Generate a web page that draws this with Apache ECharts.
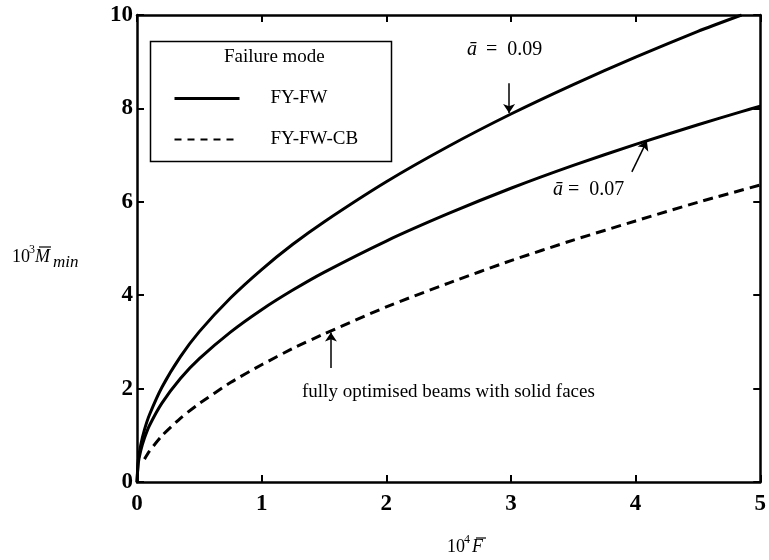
<!DOCTYPE html>
<html>
<head>
<meta charset="utf-8">
<script src="https://cdn.jsdelivr.net/npm/echarts@6/dist/echarts.min.js"></script>
<style>html,body{margin:0;padding:0;background:#fff;}#c{width:769px;height:560px;}</style>
</head>
<body>
<div id="c"></div>
<script>
// x values (10^4 F)
var fSolid = [0, 0.01, 0.03, 0.06, 0.1, 0.2, 0.35, 0.5, 0.75, 1, 1.25, 1.5, 2, 2.5, 3, 3.5, 4, 4.5, 4.85, 5];
// a = 0.09, FY-FW (10^3 M_min)
var mA009 = [0, 0.46, 0.79, 1.12, 1.44, 2.03, 2.69, 3.22, 3.94, 4.55, 5.09, 5.57, 6.43, 7.19, 7.88, 8.51, 9.10, 9.65, 10.0, null];
// a = 0.07, FY-FW
var mA007 = [0, 0.40, 0.67, 0.94, 1.21, 1.69, 2.22, 2.64, 3.21, 3.69, 4.11, 4.49, 5.16, 5.75, 6.29, 6.78, 7.23, 7.65, 7.93, 8.05];
// fully optimised beams with solid faces, FY-FW-CB
var fDashed = [0.06, 0.1, 0.2, 0.35, 0.5, 0.75, 1, 1.25, 1.5, 2, 2.5, 3, 3.5, 4, 4.5, 5];
var mSolidFaces = [0.49, 0.66, 0.99, 1.37, 1.68, 2.13, 2.51, 2.86, 3.17, 3.75, 4.26, 4.74, 5.18, 5.59, 5.99, 6.36];
var xTicks = [0, 1, 2, 3, 4, 5];
var yTicks = [0, 2, 4, 6, 8, 10];

function pairs(xs, ys) {
  var out = [];
  for (var i = 0; i < xs.length; i++) { if (ys[i] !== null) out.push([xs[i], ys[i]]); }
  return out;
}

var serif = '"Liberation Serif","DejaVu Serif",serif';
var chart = echarts.init(document.getElementById('c'));
var tickLabel = {fontFamily: serif, fontWeight: 'bold', fontSize: 23, color: '#000'};
var axisLine = {show: true, onZero: false, lineStyle: {color: '#000', width: 2.5}};
var axisTick = {show: true, inside: true, length: 7, lineStyle: {color: '#000', width: 2}};

var arrowStyle = {color: '#000', width: 1.5, type: 'solid'};
function arrow(x1, y1, x2, y2) { return [{coord: [x1, y1]}, {coord: [x2, y2]}]; }
var arrowMark = function (d) {
  return {silent: true, symbol: ['none', 'arrow'], symbolSize: 9, label: {show: false},
    lineStyle: arrowStyle, itemStyle: {color: '#000'}, emphasis: {disabled: true}, data: [d]};
};

chart.setOption({
  animation: false,
  backgroundColor: '#fff',
  grid: {left: 137, right: 6, top: 15, bottom: 78, containLabel: false},
  xAxis: [
    {type: 'value', min: 0, max: 5, interval: 1, position: 'bottom',
     axisLine: axisLine, axisTick: axisTick, splitLine: {show: false},
     axisLabel: Object.assign({margin: 11, formatter: function (v) { return xTicks.indexOf(v) >= 0 ? String(v) : ''; }}, tickLabel)},
    {type: 'value', min: 0, max: 5, interval: 1, position: 'top',
     axisLine: axisLine, axisTick: axisTick, splitLine: {show: false}, axisLabel: {show: false}}
  ],
  yAxis: [
    {type: 'value', min: 0, max: 10, interval: 2, position: 'left',
     axisLine: axisLine, axisTick: axisTick, splitLine: {show: false},
     axisLabel: Object.assign({margin: 4, formatter: function (v) { return yTicks.indexOf(v) >= 0 ? String(v) : ''; }}, tickLabel)},
    {type: 'value', min: 0, max: 10, interval: 2, position: 'right',
     axisLine: axisLine, axisTick: axisTick, splitLine: {show: false}, axisLabel: {show: false}}
  ],
  legend: {
    show: true, orient: 'vertical', left: 168, top: 84, itemWidth: 65, itemHeight: 16, itemGap: 22,
    data: [
      {name: 'FY-FW', lineStyle: {width: 3, color: '#000'}},
      {name: 'FY-FW-CB', lineStyle: {width: 2, color: '#000', type: [7, 6]}}
    ],
    selectedMode: false,
    itemStyle: {color: 'rgba(0,0,0,0)', borderWidth: 0, opacity: 0},
    textStyle: {fontFamily: serif, fontSize: 19, color: '#000', padding: [0, 0, 0, 26]}
  },
  series: [
    {name: 'FY-FW', type: 'line', data: pairs(fSolid, mA009), showSymbol: false, symbol: 'none', smooth: 0.2,
     lineStyle: {color: '#000', width: 3}, itemStyle: {color: '#000'},
     markLine: arrowMark(arrow(2.985, 8.54, 2.985, 7.90))},
    {name: 'FY-FW', type: 'line', data: pairs(fSolid, mA007), showSymbol: false, symbol: 'none', smooth: 0.2,
     lineStyle: {color: '#000', width: 3}, itemStyle: {color: '#000'},
     markLine: arrowMark(arrow(3.97, 6.64, 4.09, 7.30))},
    {name: 'FY-FW-CB', type: 'line', data: pairs(fDashed, mSolidFaces), showSymbol: false, symbol: 'none', smooth: 0.2,
     lineStyle: {color: '#000', width: 3, type: [10, 6]}, itemStyle: {color: '#000'},
     markLine: arrowMark(arrow(1.556, 2.44, 1.556, 3.20))}
  ],
  graphic: [
    {type: 'rect', left: 148, top: 39, shape: {width: 241, height: 120}, style: {fill: 'none', stroke: '#000', lineWidth: 1.5}, z: 10},
    {type: 'text', left: 224, top: 48, style: {text: 'Failure mode', font: '19px ' + serif, fill: '#000'}, z: 10},
    // y-axis title 10^3 M̄_min
    {type: 'text', left: 12, top: 248, style: {text: '10', font: '18px ' + serif, fill: '#000'}},
    {type: 'text', left: 29, top: 244, style: {text: '3', font: '12px ' + serif, fill: '#000'}},
    {type: 'text', left: 35, top: 248, style: {text: 'M', font: 'italic 18px ' + serif, fill: '#000'}},
    {type: 'line', shape: {x1: 39, y1: 247, x2: 51, y2: 247}, style: {stroke: '#000', lineWidth: 1.2}},
    {type: 'text', left: 53, top: 254, style: {text: 'min', font: 'italic 17px ' + serif, fill: '#000'}},
    // x-axis title 10^4 F̄
    {type: 'text', left: 447, top: 538, style: {text: '10', font: '18px ' + serif, fill: '#000'}},
    {type: 'text', left: 464, top: 534, style: {text: '4', font: '12px ' + serif, fill: '#000'}},
    {type: 'text', left: 472, top: 538, style: {text: 'F', font: 'italic 18px ' + serif, fill: '#000'}},
    {type: 'line', shape: {x1: 476, y1: 538, x2: 486, y2: 538}, style: {stroke: '#000', lineWidth: 1.2}},
    // annotations
    {type: 'text', left: 467, top: 40, style: {text: '\u0101', font: 'italic 20px ' + serif, fill: '#000'}},
    {type: 'text', left: 486, top: 40, style: {text: '=  0.09', font: '20px ' + serif, fill: '#000'}},
    {type: 'text', left: 553, top: 180, style: {text: '\u0101', font: 'italic 20px ' + serif, fill: '#000'}},
    {type: 'text', left: 568, top: 180, style: {text: '=  0.07', font: '20px ' + serif, fill: '#000'}},
    {type: 'text', left: 302, top: 383, style: {text: 'fully optimised beams with solid faces', font: '19px ' + serif, fill: '#000'}}
  ]
});
</script>
</body>
</html>
